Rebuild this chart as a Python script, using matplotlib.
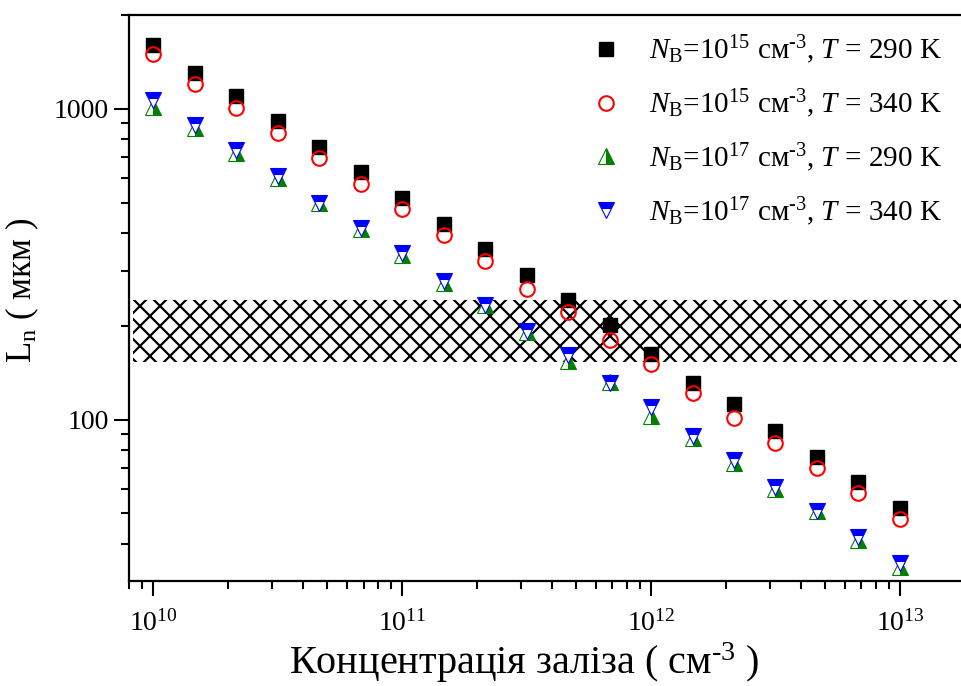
import numpy as np
import matplotlib
matplotlib.use("Agg")
import matplotlib.pyplot as plt
from matplotlib.ticker import LogLocator, FuncFormatter, NullFormatter
from matplotlib.collections import LineCollection

plt.rcParams['font.family'] = ['Liberation Serif', 'DejaVu Serif']
plt.rcParams['mathtext.fontset'] = 'custom'
plt.rcParams['mathtext.rm'] = 'Liberation Serif'
plt.rcParams['mathtext.it'] = 'Liberation Serif:italic'
plt.rcParams['mathtext.bf'] = 'Liberation Serif:bold'

# Iron concentration, cm^-3 (six points per decade)
fe_conc = [1.0e10, 1.468e10, 2.154e10, 3.162e10, 4.642e10, 6.813e10,
           1.0e11, 1.468e11, 2.154e11, 3.162e11, 4.642e11, 6.813e11,
           1.0e12, 1.468e12, 2.154e12, 3.162e12, 4.642e12, 6.813e12,
           1.0e13]

# Diffusion length L_n, um
ln_b15_290 = [1607, 1305, 1101, 915, 755, 627, 518, 427, 355, 292, 243,
              202, 163, 131, 112, 92, 76, 63, 52]
ln_b15_340 = [1502, 1203, 1007, 837, 695, 574, 477, 393, 325, 264, 222,
              181, 151, 122, 101, 84, 70, 58, 48]
ln_b17_290 = [1015, 869, 722, 600, 499, 411, 339, 276, 234, 192, 155,
              132, 103, 87.5, 72.8, 60, 51, 41, 33.6]
ln_b17_340 = [1069, 889, 739, 609, 499, 414, 344, 280, 234, 193, 161,
              131, 110, 89, 74, 61, 51, 42, 34.7]

labels = [r"$N_\mathrm{B}$=10$^{15}$ см$^{\text{-3}}$, $T$ = 290 K",
          r"$N_\mathrm{B}$=10$^{15}$ см$^{\text{-3}}$, $T$ = 340 K",
          r"$N_\mathrm{B}$=10$^{17}$ см$^{\text{-3}}$, $T$ = 290 K",
          r"$N_\mathrm{B}$=10$^{17}$ см$^{\text{-3}}$, $T$ = 340 K"]

# Shaded band of L_n values, um
band_low, band_high = 153, 242

fig = plt.figure(figsize=(9.62, 6.86), dpi=100)
ax = fig.add_axes([129 / 962, 1 - 581 / 686, 1 - 129 / 962, (581 - 15) / 686])
ax.set_xscale('log')
ax.set_yscale('log')
ax.set_xlim(8.0e9, 1.775e13)
ax.set_ylim(30.3, 2005)

# Cross-hatched band
band = ax.axhspan(band_low, band_high, xmin=0.005, xmax=1.0,
                  facecolor='none', edgecolor='none', zorder=1)
step = 0.2  # inches between hatch lines
segs = []
for c in np.arange(-12, 20, step):
    segs.append([(c, 0), (c + 12, 12)])
    segs.append([(c, 0), (c - 12, 12)])
hatch = LineCollection(segs, colors='black', linewidths=1.6,
                       transform=fig.dpi_scale_trans, zorder=1)
ax.add_collection(hatch, autolim=False)
hatch.set_clip_path(band)

ax.plot(fe_conc, ln_b15_290, ls='none', marker='s', ms=10,
        mfc='black', mec='black', mew=1, label=labels[0], zorder=3)
ax.plot(fe_conc, ln_b15_340, ls='none', marker='o', ms=10.5,
        mfc='none', mec='red', mew=1.5, label=labels[1], zorder=4)
ax.plot(fe_conc, ln_b17_290, ls='none', marker='^', ms=12,
        fillstyle='right', mfc='green', mfcalt='white', mec='green',
        mew=0.8, label=labels[2], zorder=3)
ax.plot(fe_conc, ln_b17_340, ls='none', marker='v', ms=12,
        fillstyle='top', mfc='blue', mfcalt='white', mec='blue',
        mew=0.8, label=labels[3], zorder=4)

for s in ['left', 'bottom', 'top']:
    ax.spines[s].set_linewidth(1.6)
ax.spines['right'].set_visible(False)

ax.xaxis.set_major_locator(LogLocator(base=10, numticks=10))
ax.xaxis.set_minor_locator(LogLocator(base=10, subs=np.arange(2, 10), numticks=30))
ax.yaxis.set_major_locator(LogLocator(base=10, numticks=10))
ax.yaxis.set_minor_locator(LogLocator(base=10, subs=np.arange(2, 10), numticks=30))
ax.yaxis.set_major_formatter(FuncFormatter(lambda v, p: '%d' % round(v)))
ax.yaxis.set_minor_formatter(NullFormatter())
ax.xaxis.set_minor_formatter(NullFormatter())

ax.tick_params(which='major', direction='out', length=11, width=1.5,
               labelsize=20, top=False, right=False)
ax.tick_params(which='minor', direction='out', length=6, width=1.5,
               top=False, right=False)
ax.tick_params(axis='x', which='major', pad=10)

ax.set_xlabel('Концентрація заліза ( см$^{\\text{-3}}$ )', fontsize=29)
ax.xaxis.label.set_va('baseline')
ax.xaxis.set_label_coords(0.475, (581 - 674) / 566)

ax.set_ylabel(r'L$_\mathrm{n}$ ( мкм )', fontsize=25)
ax.yaxis.label.set_va('center')
ax.yaxis.set_label_coords((22 - 129) / 833, (581 - 290) / 566)

leg = ax.legend(loc='upper right', frameon=False, fontsize=21,
                handletextpad=0.85, labelspacing=0.72, borderaxespad=0.3,
                handlelength=1.2, bbox_to_anchor=(1.0, 1.003))

fig.savefig('out.png', dpi=100)
